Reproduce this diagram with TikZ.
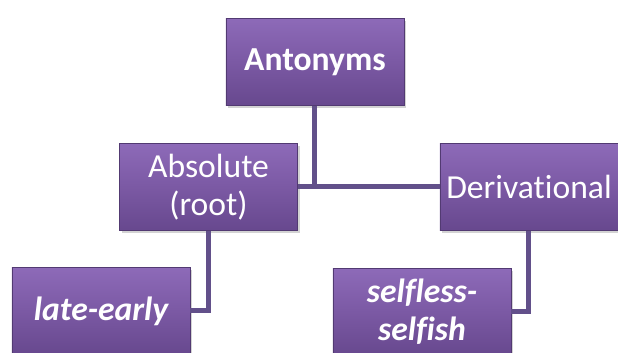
\documentclass[tikz,border=0pt]{standalone}
\usepackage{fontspec}
\setmainfont[Ligatures=NoCommon]{Carlito}
\usetikzlibrary{shadows}
\definecolor{boxtop}{HTML}{8D6AB8}
\definecolor{boxmid}{HTML}{7B59A4}
\definecolor{boxbot}{HTML}{67488E}
\definecolor{linkcol}{HTML}{62508A}
\tikzset{
  termbox/.style={rectangle, draw=boxbot!80!black, line width=0.4pt,
    top color=boxtop, bottom color=boxbot, middle color=boxmid,
    text=white, align=center, inner sep=1pt,
    minimum width=89pt, minimum height=43.5pt,
    font=\fontsize{16.8}{19}\selectfont,
    drop shadow={opacity=0.35, shadow xshift=1.2pt, shadow yshift=-1.2pt}},
  link/.style={draw=linkcol, line width=2.5pt}
}
\begin{document}
\begin{tikzpicture}[x=0.5pt,y=0.5pt]
	\useasboundingbox (0,0) rectangle (618,353);
	\node[termbox, font=\fontsize{16.8}{19}\selectfont\bfseries] (ant) at (315,291) {Antonyms};
	\node[termbox] (abs) at (208.5,166) {Absolute\\(root)};
	\node[termbox] (der) at (529,166) {Derivational};
	\node[termbox, font=\fontsize{16.8}{19}\selectfont\bfseries\itshape] (late) at (101,42) {late-early};
	\node[termbox, font=\fontsize{16.8}{19}\selectfont\bfseries\itshape] (self) at (422,41) {selfless-\\selfish};
	\draw[link] (ant.south) -- (ant.south |- abs.east);
	\draw[link] (abs.east) -- (der.west);
	\draw[link] (abs.south) |- (late.east);
	\draw[link] (der.south) |- (self.east);
\end{tikzpicture}
\end{document}
